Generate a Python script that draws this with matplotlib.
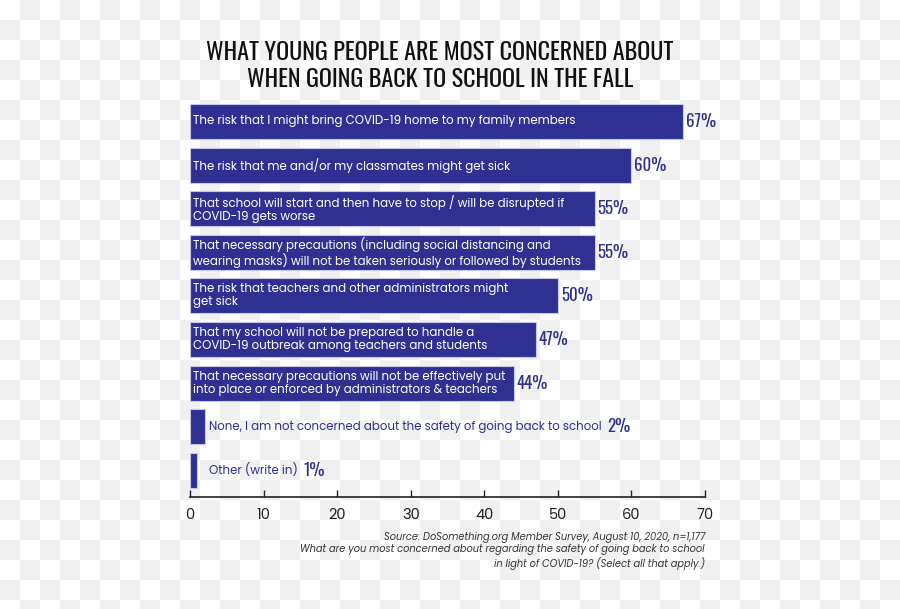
import matplotlib
matplotlib.use('Agg')
import matplotlib.pyplot as plt
import numpy as np

# survey answers, top to bottom
labels = [
    "The risk that I might bring COVID-19 home to my family members",
    "The risk that me and/or my classmates might get sick",
    "That school will start and then have to stop / will be disrupted if\nCOVID-19 gets worse",
    "That necessary precautions (including social distancing and\nwearing masks) will not be taken seriously or followed by students",
    "The risk that teachers and other administrators might\nget sick",
    "That my school will not be prepared to handle a\nCOVID-19 outbreak among teachers and students",
    "That necessary precautions will not be effectively put\ninto place or enforced by administrators & teachers",
    "None, I am not concerned about the safety of going back to school",
    "Other (write in)",
]
values = [67, 60, 55, 55, 50, 47, 44, 2, 1]
xticks = [0, 10, 20, 30, 40, 50, 60, 70]

title = "WHAT YOUNG PEOPLE ARE MOST CONCERNED ABOUT\nWHEN GOING BACK TO SCHOOL IN THE FALL"
source = ("Source: DoSomething.org Member Survey, August 10, 2020, n=1,177\n"
          "What are you most concerned about regarding the safety of going back to school\n"
          "in light of COVID-19? (Select all that apply.)")

navy = '#2e3192'
narrow = ['Oswald', 'Liberation Sans Narrow', 'DejaVu Sans']
body = ['Poppins', 'Open Sans', 'DejaVu Sans']

fig = plt.figure(figsize=(9, 6.09), dpi=100)

# transparent-looking checkerboard background
bg = fig.add_axes([0, 0, 1, 1], zorder=-10)
rows, cols = 31, 46
board = (np.add.outer(np.arange(rows), np.arange(cols)) % 2).astype(float)
bg.imshow(board, cmap=matplotlib.colors.ListedColormap(['#ffffff', '#f0f0f0']),
          extent=(0, cols * 20, rows * 20, 0), interpolation='nearest', aspect='auto')
bg.set_xlim(0, 900)
bg.set_ylim(609, 0)
bg.axis('off')

ax = fig.add_axes([190 / 900, 112 / 609, 515 / 900, 393 / 609])
ax.patch.set_alpha(0)
y = np.arange(len(values))
ax.barh(y, values, height=0.8, color=navy, edgecolor='#c5c6e6', linewidth=0.8, zorder=2)

for i, (lab, v) in enumerate(zip(labels, values)):
    if v >= 10:
        ax.annotate(lab, xy=(0, i), xytext=(3, 0), textcoords='offset pixels',
                    va='center', ha='left', color='white', fontsize=8.5,
                    family=body, linespacing=1.1, zorder=3)
        ax.annotate(f"{v}%", xy=(v, i), xytext=(3, 0), textcoords='offset pixels',
                    va='center', ha='left', color=navy, fontsize=12.2,
                    family=narrow, zorder=3)
    else:
        t = ax.annotate(lab, xy=(0, i), xytext=(19, 0), textcoords='offset pixels',
                        va='center', ha='left', color=navy, fontsize=8.5,
                        family=body, zorder=3)
        ax.annotate(f"{v}%", xy=(1, 0.5), xycoords=t, xytext=(6, 0),
                    textcoords='offset pixels', va='center', ha='left',
                    color=navy, fontsize=12.2, family=narrow, zorder=3)

ax.set_xlim(0, 70)
ax.set_ylim(8.61, -0.4)
ax.set_xticks(xticks)
ax.set_yticks([])
for s in ['top', 'right', 'left']:
    ax.spines[s].set_visible(False)
ax.spines['bottom'].set_color('#231f20')
ax.spines['bottom'].set_linewidth(1.2)
ax.tick_params(axis='x', direction='in', length=5, width=1, color='#231f20',
               labelsize=10.5, labelcolor='#231f20', pad=8)
for lbl in ax.get_xticklabels():
    lbl.set_family(body)

fig.text(440 / 900, 1 - 66 / 609, title, ha='center', va='center',
         fontsize=17.4, family=narrow, color='#111111', linespacing=1.25)

fig.text(705 / 900, 1 - 551 / 609, source, ha='right', va='center',
         fontsize=7.1, family=body, style='italic', color='#333333', linespacing=1.2)

fig.savefig('out.png', dpi=100)
